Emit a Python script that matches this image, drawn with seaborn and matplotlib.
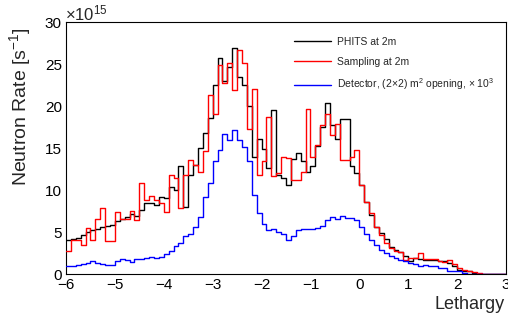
import numpy as np
import pandas as pd
import matplotlib
matplotlib.use("Agg")
import matplotlib.pyplot as plt
from matplotlib.lines import Line2D
from matplotlib.ticker import MultipleLocator
import seaborn as sns

# bins in lethargy, width 0.1 from -6 to 3
edges = np.round(np.arange(-6.0, 3.0001, 0.1), 2)
centers = np.round((edges[:-1] + edges[1:]) / 2, 3)

# neutron rate in units of 1e15 per second
phits = [4.0, 4.2, 4.3, 4.6, 5.0, 5.2, 5.4, 5.6, 5.7, 5.8,
         6.3, 6.6, 6.8, 7.2, 6.9, 7.6, 8.4, 8.5, 8.2, 9.2,
         9.0, 10.4, 10.0, 12.8, 8.0, 11.8, 13.0, 15.0, 16.8, 18.6,
         22.5, 25.7, 23.0, 24.6, 26.9, 23.5, 22.5, 20.0, 13.9, 16.1,
         14.9, 12.6, 19.5, 11.8, 11.4, 10.6, 13.7, 14.4, 13.4, 12.2,
         12.8, 15.2, 17.5, 20.3, 17.7, 16.1, 18.5, 18.5, 12.8, 12.0,
         10.6, 8.6, 7.0, 5.6, 4.9, 4.2, 3.2, 2.9, 2.6, 2.1,
         1.6, 1.9, 1.8, 1.7, 1.7, 1.7, 1.5, 1.5, 1.3, 1.0,
         0.5, 0.4, 0.35, 0.1, 0, 0, 0, 0, 0, 0]

sampling = [2.7, 4.0, 4.0, 3.5, 5.5, 4.1, 6.6, 7.8, 3.9, 3.9,
            7.4, 6.6, 6.6, 7.5, 6.4, 10.8, 8.8, 9.3, 8.8, 8.4,
            7.4, 11.8, 11.4, 7.8, 11.8, 13.6, 13.0, 12.2, 14.6, 21.3,
            19.0, 24.9, 22.7, 25.1, 21.9, 26.7, 25.1, 17.3, 22.0, 11.8,
            13.5, 18.7, 11.7, 12.0, 13.9, 13.8, 11.2, 11.2, 12.2, 19.6,
            13.9, 15.4, 17.7, 19.1, 16.5, 17.8, 13.6, 13.6, 13.9, 14.8,
            10.6, 8.6, 7.3, 5.6, 4.7, 3.7, 3.1, 2.7, 2.6, 1.7,
            1.9, 1.9, 2.5, 1.8, 1.8, 1.8, 1.5, 1.4, 1.7, 1.2,
            0.7, 0.5, 0.35, 0.2, 0.1, 0, 0, 0, 0, 0]

detector = [0.9, 1.0, 1.1, 1.2, 1.3, 1.5, 1.3, 1.2, 1.1, 1.1,
            1.5, 1.8, 1.7, 1.4, 1.8, 1.8, 1.9, 2.0, 1.9, 2.0,
            2.4, 2.7, 3.3, 3.7, 4.5, 4.8, 5.6, 6.8, 9.2, 10.8,
            13.4, 14.8, 16.7, 16.0, 17.1, 15.9, 15.1, 13.4, 9.4, 7.3,
            6.0, 5.2, 5.3, 5.0, 4.8, 4.0, 4.5, 5.2, 5.3, 5.4,
            5.4, 5.5, 5.7, 6.4, 6.8, 6.6, 6.9, 6.7, 6.7, 6.4,
            5.6, 4.8, 4.0, 3.5, 2.9, 2.5, 2.2, 1.9, 1.7, 1.5,
            1.3, 1.2, 1.0, 1.1, 0.9, 0.9, 0.7, 0.7, 0.4, 0.4,
            0.3, 0.15, 0, 0, 0, 0, 0, 0, 0, 0]

labels = ["PHITS at 2m", "Sampling at 2m",
          "Detector, (2×2) m$^2$ opening, × 10$^3$"]
colors = ["black", "red", "blue"]

df = pd.DataFrame({
    "lethargy": np.tile(centers, 3),
    "rate": phits + sampling + detector,
    "series": np.repeat(labels, len(centers)),
})

sns.set_style("white")
plt.rcParams["font.family"] = ["Liberation Sans", "DejaVu Sans"]
plt.rcParams["mathtext.fontset"] = "custom"
plt.rcParams["mathtext.rm"] = "Liberation Sans"
plt.rcParams["mathtext.it"] = "Liberation Sans:italic"
plt.rcParams["mathtext.bf"] = "Liberation Sans:bold"

fig = plt.figure(figsize=(5.08, 3.19), dpi=100)
ax = fig.add_axes([66 / 508, 45 / 319, 440 / 508, 252 / 319])

for i, (lab, col) in enumerate(zip(labels, colors)):
    sns.histplot(data=df[df["series"] == lab], x="lethargy", weights="rate",
                 binwidth=0.1, binrange=(-6, 3), element="step", fill=False,
                 color=col, linewidth=1.0, ax=ax, zorder=2 + i)

ax.set_xlim(-6, 3)
ax.set_ylim(0, 30)
ax.set_xlabel("")
ax.set_ylabel("")
ax.xaxis.set_major_locator(MultipleLocator(1))
ax.xaxis.set_minor_locator(MultipleLocator(0.2))
ax.yaxis.set_major_locator(MultipleLocator(5))
ax.yaxis.set_minor_locator(MultipleLocator(1))
ax.tick_params(which="both", direction="in", top=False, right=False,
               width=0.8, colors="black", labelsize=11, pad=3)
ax.tick_params(which="major", length=6)
ax.tick_params(which="minor", length=3)
for s in ax.spines.values():
    s.set_color("black")
    s.set_linewidth(0.8)

fig.text(65 / 508, 1 - 20 / 319, "×10$^{15}$", fontsize=12, ha="left", va="baseline")
fig.text(20 / 508, 1 - 27 / 319, "Neutron Rate [s$^{-1}$]", rotation=90,
         fontsize=14, ha="center", va="top")
fig.text(505 / 508, 1 - 309 / 319, "Lethargy", fontsize=13, ha="right", va="baseline")

handles = [Line2D([], [], color=c, lw=1.0) for c in colors]
ax.legend(handles, labels, loc="upper left", bbox_to_anchor=(0.518, 0.942),
          frameon=False, fontsize=7.5, handlelength=3.6, handletextpad=0.55,
          labelspacing=0.95, borderpad=0, borderaxespad=0)

fig.savefig("out.png", dpi=100)
